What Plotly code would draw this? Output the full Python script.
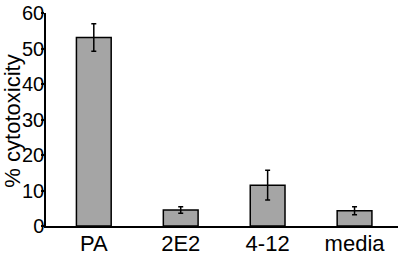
import plotly.graph_objects as go

groups = ["PA", "2E2", "4-12", "media"]
cytotoxicity = [53.1, 4.5, 11.5, 4.3]
errors = [3.9, 0.9, 4.2, 1.1]

fig = go.Figure()
fig.add_trace(go.Bar(
    x=groups, y=cytotoxicity,
    width=0.4,
    marker=dict(color="#a5a5a5", line=dict(color="black", width=1.5)),
    error_y=dict(type="data", array=errors, color="black", thickness=1.5, width=2.5),
))

fig.update_layout(
    width=400, height=257,
    margin=dict(l=46, r=2, t=13, b=31, autoexpand=False),
    paper_bgcolor="white", plot_bgcolor="white",
    showlegend=False,
    font=dict(family="Liberation Sans, Arial, sans-serif", color="black"),
)
fig.update_xaxes(
    range=[-0.55, 3.5], showline=True, linecolor="black", linewidth=1.5,
    ticks="", tickfont=dict(size=22), ticklabelposition="outside",
    ticklabelstandoff=-3, showgrid=False,
)
fig.update_yaxes(
    range=[0, 60], dtick=10, showline=True, linecolor="black", linewidth=1.5,
    ticks="outside", ticklen=3, tickwidth=1.5, tickcolor="black",
    tickfont=dict(size=20), ticklabelposition="outside", ticklabelstandoff=-7,
    showgrid=False, zeroline=False,
)

# y title as an annotation so it sits tight against the tick labels
fig.add_annotation(
    text="% cytotoxicity", textangle=-90, showarrow=False,
    xref="paper", yref="paper", x=0, y=0.49, xshift=-33, xanchor="center",
    yanchor="middle", font=dict(size=22),
)

# page body has an 8px default margin; drop it so the figure sits at 0,0
fig.write_html("out.html", config={"displayModeBar": False},
               post_script="document.body.style.margin='0';")
